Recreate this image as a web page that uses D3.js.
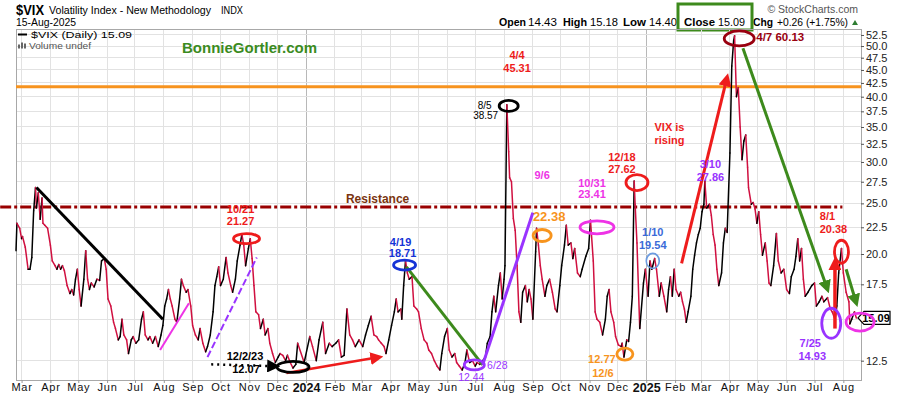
<!DOCTYPE html>
<html>
<head>
<meta charset="utf-8">
<script src="https://cdn.jsdelivr.net/npm/d3@7"></script>
<style>
  body { margin: 0; background: #fff; }
  svg { display: block; font-family: "Liberation Sans", Arial, sans-serif; }
</style>
</head>
<body>
<svg id="chart" width="900" height="396"></svg>
<script>
// daily closes
const dates = [
  '2023-02-23','2023-02-24','2023-02-27','2023-03-01','2023-03-02','2023-03-05','2023-03-08','2023-03-10','2023-03-12','2023-03-14',
  '2023-03-16','2023-03-17','2023-03-19','2023-03-21','2023-03-23','2023-03-24','2023-03-26','2023-03-29','2023-04-01','2023-04-03',
  '2023-04-06','2023-04-08','2023-04-10','2023-04-12','2023-04-14','2023-04-16','2023-04-19','2023-04-22','2023-04-24','2023-04-26',
  '2023-04-28','2023-04-30','2023-05-02','2023-05-04','2023-05-07','2023-05-09','2023-05-11','2023-05-13','2023-05-15','2023-05-18',
  '2023-05-21','2023-05-24','2023-05-26','2023-05-29','2023-05-31','2023-06-02','2023-06-05','2023-06-08','2023-06-10','2023-06-13',
  '2023-06-15','2023-06-17','2023-06-19','2023-06-22','2023-06-24','2023-06-27','2023-06-29','2023-07-02','2023-07-05','2023-07-08',
  '2023-07-10','2023-07-12','2023-07-15','2023-07-17','2023-07-20','2023-07-23','2023-07-26','2023-07-29','2023-07-31','2023-08-02',
  '2023-08-04','2023-08-06','2023-08-08','2023-08-10','2023-08-13','2023-08-15','2023-08-18','2023-08-20','2023-08-22','2023-08-25',
  '2023-08-27','2023-08-30','2023-09-01','2023-09-04','2023-09-07','2023-09-09','2023-09-12','2023-09-15','2023-09-17','2023-09-20',
  '2023-09-23','2023-09-25','2023-09-27','2023-09-29','2023-10-01','2023-10-04','2023-10-07','2023-10-09','2023-10-12','2023-10-14',
  '2023-10-17','2023-10-19','2023-10-22','2023-10-24','2023-10-26','2023-10-28','2023-10-31','2023-11-02','2023-11-04','2023-11-06',
  '2023-11-08','2023-11-11','2023-11-13','2023-11-16','2023-11-18','2023-11-21','2023-11-23','2023-11-26','2023-11-29','2023-12-02',
  '2023-12-04','2023-12-07','2023-12-10','2023-12-12','2023-12-15','2023-12-18','2023-12-21','2023-12-23','2023-12-30','2024-01-05',
  '2024-01-08','2024-01-12','2024-01-15','2024-01-19','2024-01-22','2024-01-26','2024-01-29','2024-02-02','2024-02-05','2024-02-08',
  '2024-02-11','2024-02-14','2024-02-17','2024-02-20','2024-02-23','2024-02-27','2024-03-02','2024-03-05','2024-03-08','2024-03-11',
  '2024-03-14','2024-03-17','2024-03-19','2024-03-22','2024-03-25','2024-03-27','2024-03-30','2024-04-02','2024-04-05','2024-04-07',
  '2024-04-09','2024-04-12','2024-04-13','2024-04-15','2024-04-17','2024-04-19','2024-04-21','2024-04-24','2024-04-26','2024-04-29',
  '2024-05-01','2024-05-04','2024-05-07','2024-05-10','2024-05-12','2024-05-15','2024-05-18','2024-05-21','2024-05-24','2024-05-26',
  '2024-05-29','2024-06-01','2024-06-03','2024-06-06','2024-06-09','2024-06-11','2024-06-14','2024-06-17','2024-06-20','2024-06-22',
  '2024-06-25','2024-06-28','2024-07-01','2024-07-03','2024-07-06','2024-07-09','2024-07-12','2024-07-14','2024-07-17','2024-07-19',
  '2024-07-21','2024-07-23','2024-07-26','2024-07-28','2024-07-30','2024-08-01','2024-08-02','2024-08-04','2024-08-06','2024-08-07',
  '2024-08-09','2024-08-11','2024-08-13','2024-08-15','2024-08-17','2024-08-19','2024-08-21','2024-08-24','2024-08-26','2024-08-28',
  '2024-08-30','2024-09-01','2024-09-04','2024-09-05','2024-09-07','2024-09-09','2024-09-11','2024-09-14','2024-09-16','2024-09-19',
  '2024-09-22','2024-09-25','2024-09-27','2024-09-30','2024-10-02','2024-10-05','2024-10-07','2024-10-09','2024-10-12','2024-10-14',
  '2024-10-16','2024-10-19','2024-10-22','2024-10-24','2024-10-28','2024-10-31','2024-11-02','2024-11-05','2024-11-07','2024-11-09',
  '2024-11-12','2024-11-15','2024-11-18','2024-11-20','2024-11-22','2024-11-24','2024-11-27','2024-11-29','2024-12-02','2024-12-05',
  '2024-12-06','2024-12-08','2024-12-11','2024-12-13','2024-12-15','2024-12-17','2024-12-19','2024-12-20','2024-12-22','2024-12-25',
  '2024-12-29','2024-12-31','2025-01-03','2025-01-05','2025-01-07','2025-01-10','2025-01-12','2025-01-15','2025-01-17','2025-01-20',
  '2025-01-23','2025-01-25','2025-01-27','2025-01-29','2025-01-31','2025-02-02','2025-02-05','2025-02-07','2025-02-09','2025-02-11',
  '2025-02-13','2025-02-15','2025-02-18','2025-02-20','2025-02-22','2025-02-24','2025-02-26','2025-02-28','2025-03-02','2025-03-04',
  '2025-03-05','2025-03-07','2025-03-10','2025-03-12','2025-03-14','2025-03-16','2025-03-18','2025-03-20','2025-03-23','2025-03-25',
  '2025-03-27','2025-03-29','2025-04-01','2025-04-03','2025-04-05','2025-04-06','2025-04-08','2025-04-10','2025-04-12','2025-04-14',
  '2025-04-16','2025-04-18','2025-04-20','2025-04-21','2025-04-24','2025-04-26','2025-04-28','2025-04-30','2025-05-02','2025-05-04',
  '2025-05-06','2025-05-09','2025-05-11','2025-05-13','2025-05-15','2025-05-18','2025-05-21','2025-05-23','2025-05-26','2025-05-29',
  '2025-06-01','2025-06-04','2025-06-06','2025-06-09','2025-06-11','2025-06-13','2025-06-15','2025-06-17','2025-06-19','2025-06-21',
  '2025-06-24','2025-06-28','2025-07-01','2025-07-03','2025-07-06','2025-07-09','2025-07-11','2025-07-15','2025-07-18','2025-07-20',
  '2025-07-23','2025-07-25','2025-07-27','2025-07-30','2025-08-01','2025-08-04','2025-08-07','2025-08-08','2025-08-10','2025-08-13',
  '2025-08-15'
];
const closes = [
  20.3, 22.9, 22.4, 21.4, 21.6, 20.6, 18.7, 18.7, 19.7, 24.2,
  26.8, 24.5, 26.2, 23.3, 25.6, 22.9, 22.7, 22.4, 20.8, 19.4,
  19.0, 18.7, 19.1, 18.7, 19.0, 18.6, 17.4, 16.8, 17.1, 16.7,
  17.9, 18.7, 17.1, 15.9, 17.9, 20.3, 17.9, 17.1, 17.6, 17.3,
  17.9, 17.8, 19.4, 19.6, 18.7, 16.4, 15.9, 14.8, 14.4, 13.7,
  13.9, 15.0, 14.0, 13.7, 12.9, 13.7, 13.9, 13.5, 13.7, 15.0,
  15.5, 14.0, 13.7, 13.9, 13.5, 13.9, 13.3, 14.0, 14.6, 15.9,
  16.4, 17.1, 16.4, 15.9, 15.0, 14.8, 16.4, 17.9, 17.4, 16.9,
  17.1, 15.9, 14.6, 14.0, 13.7, 14.4, 13.5, 13.0, 13.3, 14.0,
  15.5, 17.4, 18.1, 18.9, 17.4, 17.9, 19.7, 18.4, 17.4, 16.9,
  17.9, 19.4, 20.8, 21.8, 20.8, 19.0, 20.5, 21.4, 19.6, 17.4,
  15.5, 15.3, 14.4, 15.0, 14.0, 14.4, 13.5, 12.9, 12.4, 12.7,
  12.9, 12.8, 12.5, 12.8, 12.4, 12.1, 12.3, 13.5, 12.4, 13.9,
  13.3, 12.5, 13.7, 14.8, 12.9, 13.5, 13.3, 13.5, 13.7, 12.7,
  12.8, 15.7, 14.0, 13.7, 13.3, 13.7, 13.3, 14.0, 14.6, 15.2,
  14.0, 13.9, 13.7, 13.5, 13.3, 12.9, 13.7, 14.6, 15.5, 16.4,
  15.5, 15.7, 15.0, 17.4, 19.4, 18.4, 17.9, 18.1, 15.9, 15.7,
  15.5, 14.4, 13.7, 13.5, 13.1, 12.9, 12.5, 12.2, 12.0, 12.9,
  13.9, 14.4, 13.1, 12.7, 12.9, 12.4, 12.2, 12.0, 12.4, 13.1,
  12.4, 12.5, 12.2, 12.4, 12.3, 12.5, 12.7, 13.5, 13.9, 15.5,
  16.6, 15.5, 17.4, 18.4, 16.4, 17.9, 19.0, 38.6, 31.4, 28.0,
  27.5, 23.4, 22.2, 19.0, 15.5, 14.8, 16.9, 17.4, 16.2, 17.1,
  16.4, 15.0, 20.2, 22.4, 20.8, 19.0, 17.9, 16.6, 17.4, 17.9,
  16.9, 15.7, 15.5, 17.4, 19.0, 20.8, 22.7, 20.8, 21.0, 19.6,
  20.5, 18.4, 18.1, 18.7, 19.8, 20.5, 23.2, 19.4, 15.5, 15.0,
  14.8, 14.0, 15.0, 16.6, 17.1, 15.5, 14.8, 13.9, 13.4, 13.3,
  13.5, 12.7, 13.7, 13.6, 14.8, 16.6, 27.6, 24.9, 21.0, 14.4,
  17.6, 18.7, 16.6, 19.4, 18.7, 19.6, 18.7, 16.6, 17.6, 16.6,
  15.5, 17.1, 18.1, 16.6, 18.7, 17.1, 16.6, 16.9, 16.2, 15.7,
  14.8, 15.5, 16.6, 18.7, 19.9, 21.0, 21.8, 22.4, 24.1, 24.9,
  27.6, 24.5, 24.9, 23.7, 21.8, 20.8, 18.7, 17.4, 18.4, 21.0,
  22.4, 22.0, 31.2, 45.8, 51.2, 52.3, 40.0, 41.6, 35.0, 30.3,
  32.9, 33.8, 29.3, 26.8, 24.9, 25.1, 24.4, 22.9, 24.1, 21.8,
  19.9, 21.0, 19.4, 17.6, 17.4, 19.0, 21.9, 19.4, 18.4, 18.7,
  17.1, 16.8, 18.1, 18.7, 19.8, 21.4, 19.4, 20.5, 17.9, 16.6,
  16.9, 17.4, 17.6, 15.9, 16.2, 16.6, 16.2, 16.5, 15.7, 15.5,
  15.0, 15.9, 18.4, 20.5, 18.4, 16.9, 16.2, 14.7, 15.0, 15.5,
  15.09
];
const yTicks = [12.5, 15, 17.5, 20, 22.5, 25, 27.5, 30, 32.5, 35, 37.5, 40, 42.5, 45, 47.5, 50, 52.5];
const resistanceLevel = 24.6;
const orangeLevel = 41.8;
const lastClose = 15.09;

const RED = '#ee1c1c', DARKRED = '#99000f', PURPLE = '#9933ff', MAGENTA = '#ee33e6',
  ORANGE = '#f7941d', BLUE = '#1533d6', LIGHTBLUE = '#6b9be0', GREEN = '#3d8a1c', BLACK = '#000';

// circled highlights: centre in chart values, labels offset in pixels
const callouts = [
  { date: '2023-10-29', value: 21.4, rx: 13, ry: 5, color: RED, labels: [['10/21', -6, -26], ['21.27', -6, -14]] },
  { date: '2023-12-18', value: 12.16, rx: 16, ry: 5.5, color: BLACK, labels: [['12/2/23', -48, -7], ['12.07', -47, 6]] },
  { date: '2024-04-16', value: 19.05, rx: 11, ry: 5, color: BLUE, labels: [['4/19', -4, -19], ['18.71', -2, -8]] },
  { date: '2024-06-30', value: 12.27, rx: 10, ry: 5, color: PURPLE, weight: 'normal', size: 10.5, labels: [['6/28', 23, 4], ['12.44', -3, 16]] },
  { date: '2024-08-06', value: 38.4, rx: 9.5, ry: 5.5, color: BLACK, weight: 'normal', size: 10, labels: [['8/5', -24, 3], ['38.57', -23, 13]] },
  { date: '2024-09-11', value: 21.7, rx: 9, ry: 6, color: ORANGE, labels: [['9/6', 0, -56, MAGENTA], ['22.38', 7, -14, ORANGE, 13]] },
  { date: '2024-11-09', value: 22.5, rx: 17, ry: 6.5, color: MAGENTA, labels: [['10/31', -5, -40], ['23.41', -5, -29]] },
  { date: '2024-12-22', value: 27.4, rx: 11, ry: 8, color: RED, labels: [['12/18', -15, -22], ['27.62', -15, -10]] },
  { date: '2025-01-08', value: 19.4, rx: 6.5, ry: 7.5, color: LIGHTBLUE, width: 1.6, labels: [['1/10', 0, -25, '#3a6ad8'], ['19.54', 0, -12, '#3a6ad8']] },
  { date: '2024-12-09', value: 12.87, rx: 8, ry: 6, color: ORANGE, labels: [['12.77', -23, 9], ['12/6', -22, 23]] },
  { date: '2025-04-11', value: 51.7, rx: 15, ry: 7.5, color: DARKRED, labels: [['4/7 60.13', 41, 3, DARKRED, 11.5]] },
  { date: '2025-07-30', value: 20.2, rx: 7, ry: 11.5, color: RED, labels: [['8/1', -14, -32], ['20.38', -8, -19]] },
  { date: '2025-07-19', value: 14.74, rx: 9.5, ry: 15, color: PURPLE, labels: [['7/25', -21, 24], ['14.93', -19, 37]] },
  { date: '2025-08-19', value: 14.82, rx: 14, ry: 9, color: MAGENTA, labels: [] }
];

// free-standing notes
const notes = [
  { date: '2024-08-15', value: 47.2, color: RED, lines: ['4/4', '45.31'] },
  { date: '2025-01-26', value: 34.4, color: RED, lines: ['VIX is', 'rising'] },
  { date: '2025-03-11', value: 29.2, color: PURPLE, lines: ['3/10', '27.86'] }
];

// drawn trend lines and arrows
const strokes = [
  { from: ['2023-03-17', 26.8], to: ['2023-07-31', 15.0], color: BLACK, width: 3 },
  { from: ['2023-07-28', 13.1], to: ['2023-08-28', 16.1], color: MAGENTA, width: 2 },
  { from: ['2023-09-17', 12.7], to: ['2023-11-09', 19.7], color: PURPLE, width: 2, dash: '7,3' },
  { from: ['2023-09-21', 12.3], to: ['2023-11-30', 12.2], color: BLACK, width: 2.5, dash: '2,4', arrow: true },
  { from: ['2023-12-11', 11.84], to: ['2024-03-20', 12.7], color: RED, width: 2.5, arrow: true },
  { from: ['2024-04-18', 18.9], to: ['2024-07-09', 12.27], color: GREEN, width: 3 },
  { from: ['2024-07-09', 12.27], to: ['2024-09-01', 24.0], color: PURPLE, width: 3 },
  { from: ['2025-02-08', 19.2], to: ['2025-03-29', 43.6], color: RED, width: 3, arrow: true },
  { from: ['2025-04-15', 49.5], to: ['2025-07-15', 17.1], color: GREEN, width: 3, arrow: true },
  { from: ['2025-08-04', 18.7], to: ['2025-08-15', 16.1], color: GREEN, width: 3, arrow: true },
  { from: ['2025-07-23', 14.4], to: ['2025-07-23', 19.4], color: RED, width: 3.5, arrow: true }
];

const parse = d3.timeParse('%Y-%m-%d');
const plot = { left: 16, right: 861, top: 29, bottom: 380 };

const x = d3.scaleTime()
  .domain([parse('2023-02-23'), parse('2025-08-20')])
  .range([plot.left, plot.right]);
const y = d3.scaleLog()
  .domain([11.48, 53.9])
  .range([plot.bottom, plot.top]);

const svg = d3.select('#chart');
const defs = svg.append('defs');

// ---- header ----
const header = svg.append('g');
const fitText = (sel, len) => sel.attr('textLength', len).attr('lengthAdjust', 'spacingAndGlyphs');
header.append('text').attr('x', 16).attr('y', 14.5)
  .style('font-size', '15px').style('font-weight', 'bold').text('$VIX')
  .call(fitText, 28);
header.append('text').attr('x', 49).attr('y', 14)
  .style('font-size', '11px').text('Volatility Index - New Methodology')
  .call(fitText, 162);
header.append('text').attr('x', 221).attr('y', 14)
  .style('font-size', '10px').text('INDX')
  .call(fitText, 22);
header.append('text').attr('x', 16).attr('y', 26)
  .style('font-size', '11px').text('15-Aug-2025')
  .call(fitText, 60);
header.append('text').attr('x', 858).attr('y', 13).attr('text-anchor', 'end')
  .style('font-size', '10.5px').attr('fill', '#555').text('\u00a9 StockCharts.com');

const quote = [
  ['Open', 499, 27, true], ['14.43', 528, 29], ['High', 563, 24, true], ['15.18', 590, 28],
  ['Low', 623, 23, true], ['14.40', 649, 28], ['Close', 684, 31, true], ['15.09', 718, 27],
  ['Chg', 753, 20, true], ['+0.26 (+1.75%)', 777, 71]
];
header.selectAll('text.quote').data(quote).join('text')
  .attr('class', 'quote')
  .attr('x', d => d[1]).attr('y', 26)
  .attr('textLength', d => d[2]).attr('lengthAdjust', 'spacingAndGlyphs')
  .style('font-size', '11.5px')
  .style('font-weight', d => d[3] ? 'bold' : 'normal')
  .text(d => d[0]);
header.append('path').attr('d', 'M852,25 L858,25 L855,20 Z').attr('fill', '#2e7d32');
header.append('rect').attr('x', 678).attr('y', 4).attr('width', 74).attr('height', 26)
  .attr('fill', 'none').attr('stroke', GREEN).attr('stroke-width', 3);

// ---- grid ----
const months = d3.timeMonth.range(parse('2023-03-01'), parse('2025-08-02'));
const grid = svg.append('g');
grid.selectAll('line.v').data(months).join('line')
  .attr('x1', d => x(d)).attr('x2', d => x(d))
  .attr('y1', plot.top).attr('y2', plot.bottom)
  .attr('stroke', d => d.getMonth() === 0 ? '#b8b8b8' : '#e2e2e2')
  .attr('shape-rendering', 'crispEdges');
grid.selectAll('line.h').data(yTicks).join('line')
  .attr('x1', plot.left).attr('x2', plot.right)
  .attr('y1', d => y(d)).attr('y2', d => y(d))
  .attr('stroke', '#e2e2e2').attr('shape-rendering', 'crispEdges');
svg.append('rect')
  .attr('x', plot.left).attr('y', plot.top)
  .attr('width', plot.right - plot.left).attr('height', plot.bottom - plot.top)
  .attr('fill', 'none').attr('stroke', '#a8a8a8').attr('shape-rendering', 'crispEdges');

// ---- axes ----
const xAxis = svg.append('g').attr('transform', `translate(0,${plot.bottom})`)
  .call(d3.axisBottom(x).tickValues(months).tickSize(3)
    .tickFormat(d => d.getMonth() === 0 ? d3.timeFormat('%Y')(d) : d3.timeFormat('%b')(d)));
xAxis.select('.domain').remove();
xAxis.selectAll('line').attr('stroke', '#999');
xAxis.selectAll('text')
  .attr('y', 3.5)
  .style('font-size', d => d.getMonth() === 0 ? '12.5px' : '11px')
  .style('font-weight', d => d.getMonth() === 0 ? 'bold' : 'normal')
  .style('letter-spacing', d => d.getMonth() === 0 ? '0' : '0.8px')
  .attr('fill', '#111');

const yAxis = svg.append('g').attr('transform', `translate(${plot.right},0)`)
  .call(d3.axisRight(y).tickValues(yTicks).tickSize(3).tickPadding(2).tickFormat(d3.format('.1f')));
yAxis.select('.domain').remove();
yAxis.selectAll('line').attr('stroke', '#555');
yAxis.selectAll('text').style('font-size', '11px').attr('fill', '#222');
// the last-price flag hides the label it sits on
yAxis.selectAll('.tick').filter(d => Math.abs(y(d) - y(lastClose)) < 9).select('text').remove();

// ---- legend & watermark ----
const legend = svg.append('g');
legend.append('line').attr('x1', 18).attr('x2', 27).attr('y1', 34.5).attr('y2', 34.5)
  .attr('stroke', '#000').attr('stroke-width', 2);
legend.append('text').attr('x', 31).attr('y', 38).style('font-size', '9.5px')
  .text(`$VIX (Daily) ${lastClose}`).call(fitText, 101);
legend.selectAll('rect.vol').data([4, 6, 5]).join('rect')
  .attr('class', 'vol')
  .attr('x', (d, i) => 18 + i * 3).attr('y', d => 48.5 - d)
  .attr('width', 2).attr('height', d => d).attr('fill', '#666');
legend.append('text').attr('x', 29).attr('y', 48.5).style('font-size', '9.5px')
  .attr('fill', '#555').text('Volume undef').call(fitText, 62);
svg.append('text').attr('x', 182).attr('y', 53)
  .style('font-size', '15px').style('font-weight', 'bold').attr('fill', '#3b8b1e')
  .text('BonnieGortler.com');

// ---- level lines ----
svg.append('line')
  .attr('x1', plot.left).attr('x2', plot.right)
  .attr('y1', y(orangeLevel)).attr('y2', y(orangeLevel))
  .attr('stroke', '#f7931e').attr('stroke-width', 3);
svg.append('line')
  .attr('x1', x(parse('2023-02-06'))).attr('x2', x(parse('2025-07-31')))
  .attr('y1', y(resistanceLevel)).attr('y2', y(resistanceLevel))
  .attr('stroke', '#990000').attr('stroke-width', 3)
  .attr('stroke-dasharray', '11,3,3,3');
svg.append('text')
  .attr('x', x(parse('2024-03-18'))).attr('y', y(resistanceLevel) - 4)
  .attr('text-anchor', 'middle')
  .style('font-size', '12px').style('font-weight', 'bold').attr('fill', '#7a3410')
  .text('Resistance');

// ---- price line, black on up days, red on down days ----
const points = dates.map((d, i) => ({ date: parse(d), value: closes[i] }));
svg.append('g').selectAll('line').data(d3.pairs(points)).join('line')
  .attr('x1', ([a]) => x(a.date)).attr('y1', ([a]) => y(a.value))
  .attr('x2', ([, b]) => x(b.date)).attr('y2', ([, b]) => y(b.value))
  .attr('stroke', ([a, b]) => b.value >= a.value ? '#000' : '#d01040')
  .attr('stroke-width', 1.5).attr('stroke-linecap', 'round');

// ---- price flag on the axis ----
const flagY = y(lastClose);
svg.append('path')
  .attr('d', `M${plot.right - 3},${flagY} L${plot.right + 3},${flagY - 6.5} L890,${flagY - 6.5} L890,${flagY + 6.5} L${plot.right + 3},${flagY + 6.5} Z`)
  .attr('fill', '#fff').attr('stroke', '#000').attr('stroke-width', 1.2);
svg.append('text').attr('x', 876).attr('y', flagY + 4).attr('text-anchor', 'middle')
  .style('font-size', '11px').style('font-weight', 'bold').text(lastClose.toFixed(2));

// ---- annotations ----
const markerFor = color => {
  const id = 'arrow' + color.replace('#', '');
  if (defs.select('#' + id).empty()) {
    defs.append('marker').attr('id', id)
      .attr('viewBox', '0 0 10 10').attr('refX', 7).attr('refY', 5)
      .attr('markerWidth', 13).attr('markerHeight', 13)
      .attr('markerUnits', 'userSpaceOnUse').attr('orient', 'auto')
      .append('path').attr('d', 'M0,0 L10,5 L0,10 Z').attr('fill', color);
  }
  return `url(#${id})`;
};

const notesG = svg.append('g');
strokes.forEach(s => {
  notesG.append('line')
    .attr('x1', x(parse(s.from[0]))).attr('y1', y(s.from[1]))
    .attr('x2', x(parse(s.to[0]))).attr('y2', y(s.to[1]))
    .attr('stroke', s.color).attr('stroke-width', s.width)
    .attr('stroke-dasharray', s.dash || null)
    .attr('marker-end', s.arrow ? markerFor(s.color) : null);
});

callouts.forEach(c => {
  const cx = x(parse(c.date)), cy = y(c.value);
  notesG.append('ellipse')
    .attr('cx', cx).attr('cy', cy).attr('rx', c.rx).attr('ry', c.ry)
    .attr('fill', 'none').attr('stroke', c.color).attr('stroke-width', c.width || 2.8);
  c.labels.forEach(([txt, dx, dy, color, size]) => {
    notesG.append('text')
      .attr('x', cx + dx).attr('y', cy + dy).attr('text-anchor', 'middle')
      .style('font-size', (size || c.size || 11) + 'px')
      .style('font-weight', c.weight || 'bold')
      .attr('fill', color || c.color)
      .text(txt);
  });
});

notes.forEach(n => {
  notesG.selectAll(null).data(n.lines).join('text')
    .attr('x', x(parse(n.date))).attr('y', (d, i) => y(n.value) + i * 13)
    .attr('text-anchor', 'middle')
    .style('font-size', '11px').style('font-weight', 'bold')
    .attr('fill', n.color).text(d => d);
});
</script>
</body>
</html>
